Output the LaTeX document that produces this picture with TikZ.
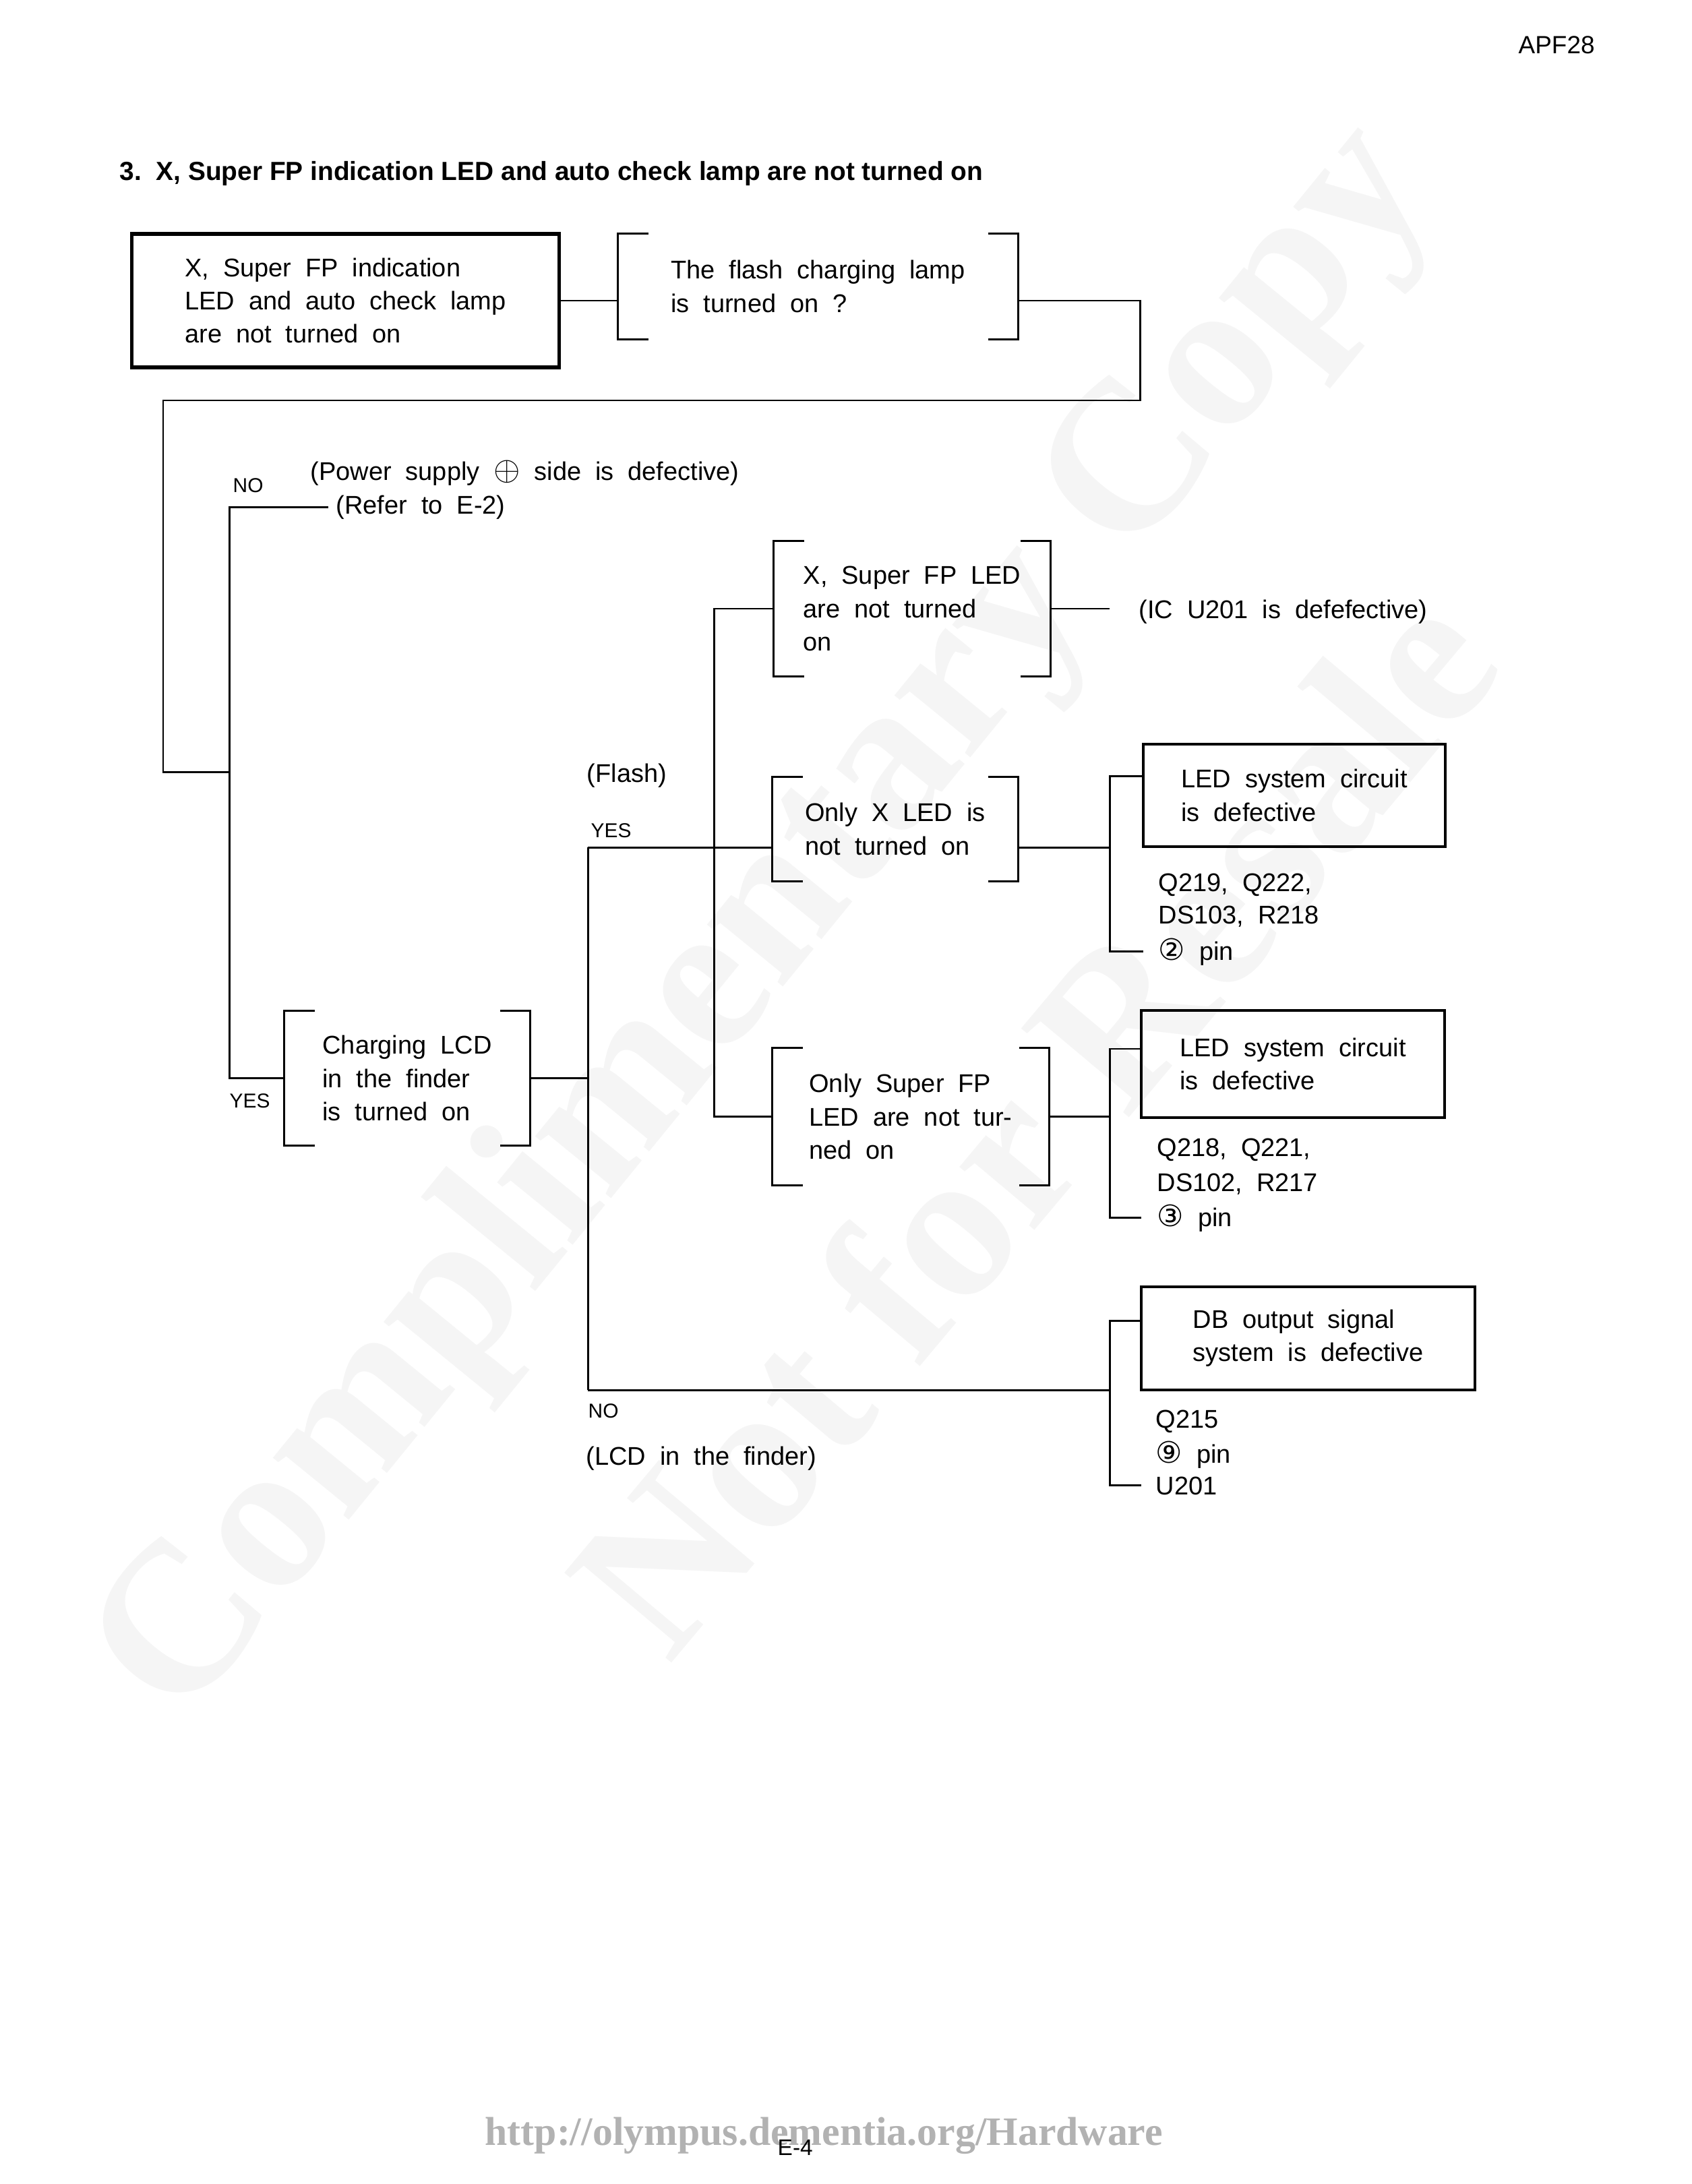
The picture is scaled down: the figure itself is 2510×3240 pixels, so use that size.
\documentclass[tikz,border=0pt]{standalone}
\usepackage{fontspec}
\setmainfont{Liberation Sans}
\newfontfamily\symfont{DejaVu Sans}
\newfontfamily\urlfont{Liberation Serif}

\newcommand{\bodyfont}{\fontsize{10.8}{14}\selectfont\spaceskip=0.55em\relax}
\newcommand{\cnum}[1]{{\symfont\fontsize{12.5}{14}\selectfont #1}}
\newcommand{\plussign}{{\fontsize{15}{14}\selectfont$\oplus$}}

% bracket ticks around a question node
\newcommand{\brackets}[1]{%
  \draw[bline] ([xshift=0.46cm]#1.north west) -- (#1.north west) -- (#1.south west) -- ([xshift=0.46cm]#1.south west);
  \draw[bline] ([xshift=-0.45cm]#1.north east) -- (#1.north east) -- (#1.south east) -- ([xshift=-0.45cm]#1.south east);}

\tikzset{
  link/.style={line width=0.85pt},
  bline/.style={line width=0.9pt},
  mainbox/.style={draw, line width=1.5pt, inner sep=0pt, align=left, font=\bodyfont},
  qbox/.style={inner sep=0pt, align=left, font=\bodyfont},
  resbox/.style={draw, line width=1pt, inner sep=0pt, align=left, font=\bodyfont},
  txt/.style={inner sep=0pt, anchor=base west, font=\bodyfont},
  lbl/.style={inner sep=0pt, anchor=base west, font=\fontsize{8.5}{10}\selectfont},
  wmark/.style={text=black!4, font=\urlfont\bfseries\fontsize{90}{95}\selectfont},
}

\begin{document}
\begin{tikzpicture}[x=0.01cm, y=-0.01cm]

\useasboundingbox (0,0) rectangle (2510,3240);
\fill[white] (0,0) rectangle (2510,3240);

% watermark
\node[wmark, rotate=50.8] (wmone) at (1140,1372) {Complimentary Copy};
\node[wmark, rotate=50] (wmtwo) at (1530,1660) {Not for Resale};

\node[anchor=base west, inner sep=0pt, font=\fontsize{10.5}{12}\selectfont] (pageid) at (2252,80) {APF28};
\node[anchor=base west, inner sep=0pt, font=\bfseries\fontsize{11.05}{13}\selectfont] (title) at (177,268) {3.\ \ X, Super FP indication LED and auto check lamp are not turned on};

% boxes
\node[mainbox, minimum width=6.33cm, minimum height=1.98cm] (start) at (512.5,446) {X, Super FP indication\\LED and auto check lamp\\are not turned on};
\node[qbox, minimum width=5.93cm, minimum height=1.56cm] (flashq) at (1213.5,425) {The flash charging lamp\\is turned on ?};
\node[qbox, minimum width=3.64cm, minimum height=1.99cm] (lcdq) at (604,1599.5) {Charging LCD\\in the finder\\is turned on};
\node[qbox, minimum width=4.10cm, minimum height=2.00cm] (bothq) at (1353,903) {X, Super FP LED\\are not turned\\on};
\node[qbox, minimum width=3.64cm, minimum height=1.54cm] (xq) at (1328,1230) {Only X LED is\\not turned on};
\node[qbox, minimum width=4.10cm, minimum height=2.03cm] (sfpq) at (1351,1656.5) {Only Super FP\\LED are not tur-\\ned on};
\node[resbox, minimum width=4.48cm, minimum height=1.52cm] (ledx) at (1920,1180) {LED system circuit\\is defective};
\node[resbox, minimum width=4.50cm, minimum height=1.59cm] (ledsfp) at (1918,1578.5) {LED system circuit\\is defective};
\node[resbox, minimum width=4.95cm, minimum height=1.53cm] (dbsig) at (1940.5,1985.5) {DB output signal\\system is defective};

\brackets{flashq}
\brackets{lcdq}
\brackets{bothq}
\brackets{xq}
\brackets{sfpq}

% texts
\node[txt] (power) at (460,712) {(Power supply \plussign\ side is defective)};
\node[txt] (refer) at (498,762) {(Refer to E-2)};
\node[lbl] (noa) at (345,730) {NO};
\node[lbl] (yesa) at (340,1643) {YES};
\node[txt] (flashlbl) at (870,1160) {(Flash)};
\node[lbl] (yesb) at (876,1242) {YES};
\node[lbl] (nob) at (872,2103) {NO};
\node[txt] (lcdlbl) at (869,2173) {(LCD in the finder)};
\node[txt] (icfault) at (1689,917) {(IC U201 is defefective)};

\node[txt] (pa1) at (1718,1322) {Q219, Q222,};
\node[txt] (pa2) at (1718,1370) {DS103, R218};
\node[txt] (pina) at (1718,1424) {\cnum{②} pin};
\node[txt] (pb1) at (1716,1715) {Q218, Q221,};
\node[txt] (pb2) at (1716,1767) {DS102, R217};
\node[txt] (pinb) at (1716,1819) {\cnum{③} pin};
\node[txt] (pc1) at (1714,2118) {Q215};
\node[txt] (pc2) at (1714,2170) {\cnum{⑨} pin};
\node[txt] (u201) at (1714,2217) {U201};

% junctions
\coordinate (loopr) at (1691,594);
\coordinate (loopl) at (242,594);
\coordinate (jn) at (340,1145);
\coordinate (jy) at (872,1257);
\coordinate (jno) at (872,2062);
\coordinate (jv) at (1059,1257);
\coordinate (ja) at (1646,1257);
\coordinate (jb) at (sfpq.east -| ja);
\coordinate (jc) at (jno -| ja);

% connectors
\draw[link] (start.east) -- (start.east -| flashq.west);
\draw[link] (flashq.east |- start.east) -| (loopr) -- (loopl) |- (jn);
\draw[link, shorten <=0.11cm] (refer.west) -| (jn) |- (lcdq.west);
\draw[link] (lcdq.east) -- (lcdq.east -| jy);
\draw[link] (jy) -- (jno);
\draw[link] (jy) -- (jy -| xq.west);
\draw[link] (bothq.west) -| (jv) |- (sfpq.west);
\draw[link, shorten >=0.43cm] (bothq.east) -- (bothq.east -| icfault.west);
\draw[link] (xq.east |- ja) -- (ja);
\draw[link, shorten >=0.22cm] ([yshift=0.28cm]ledx.west) -| (ja) |- (pina.west);
\draw[link] (sfpq.east) -- (jb);
\draw[link, shorten >=0.23cm] ([yshift=0.225cm]ledsfp.west) -| (jb) |- (pinb.west);
\draw[link] (jno) -- (jc);
\draw[link, shorten >=0.21cm] ([yshift=0.265cm]dbsig.west) -| (jc) |- (u201.west);

% footer
\node[anchor=base west, inner sep=0pt, text=black!30, font=\urlfont\bfseries\fontsize{17}{19}\selectfont] (url) at (719,3182) {http://olympus.dementia.org/Hardware};
\node[anchor=base west, inner sep=0pt, font=\fontsize{9.5}{11}\selectfont] (pagenum) at (1153,3197) {E-4};

\end{tikzpicture}
\end{document}
